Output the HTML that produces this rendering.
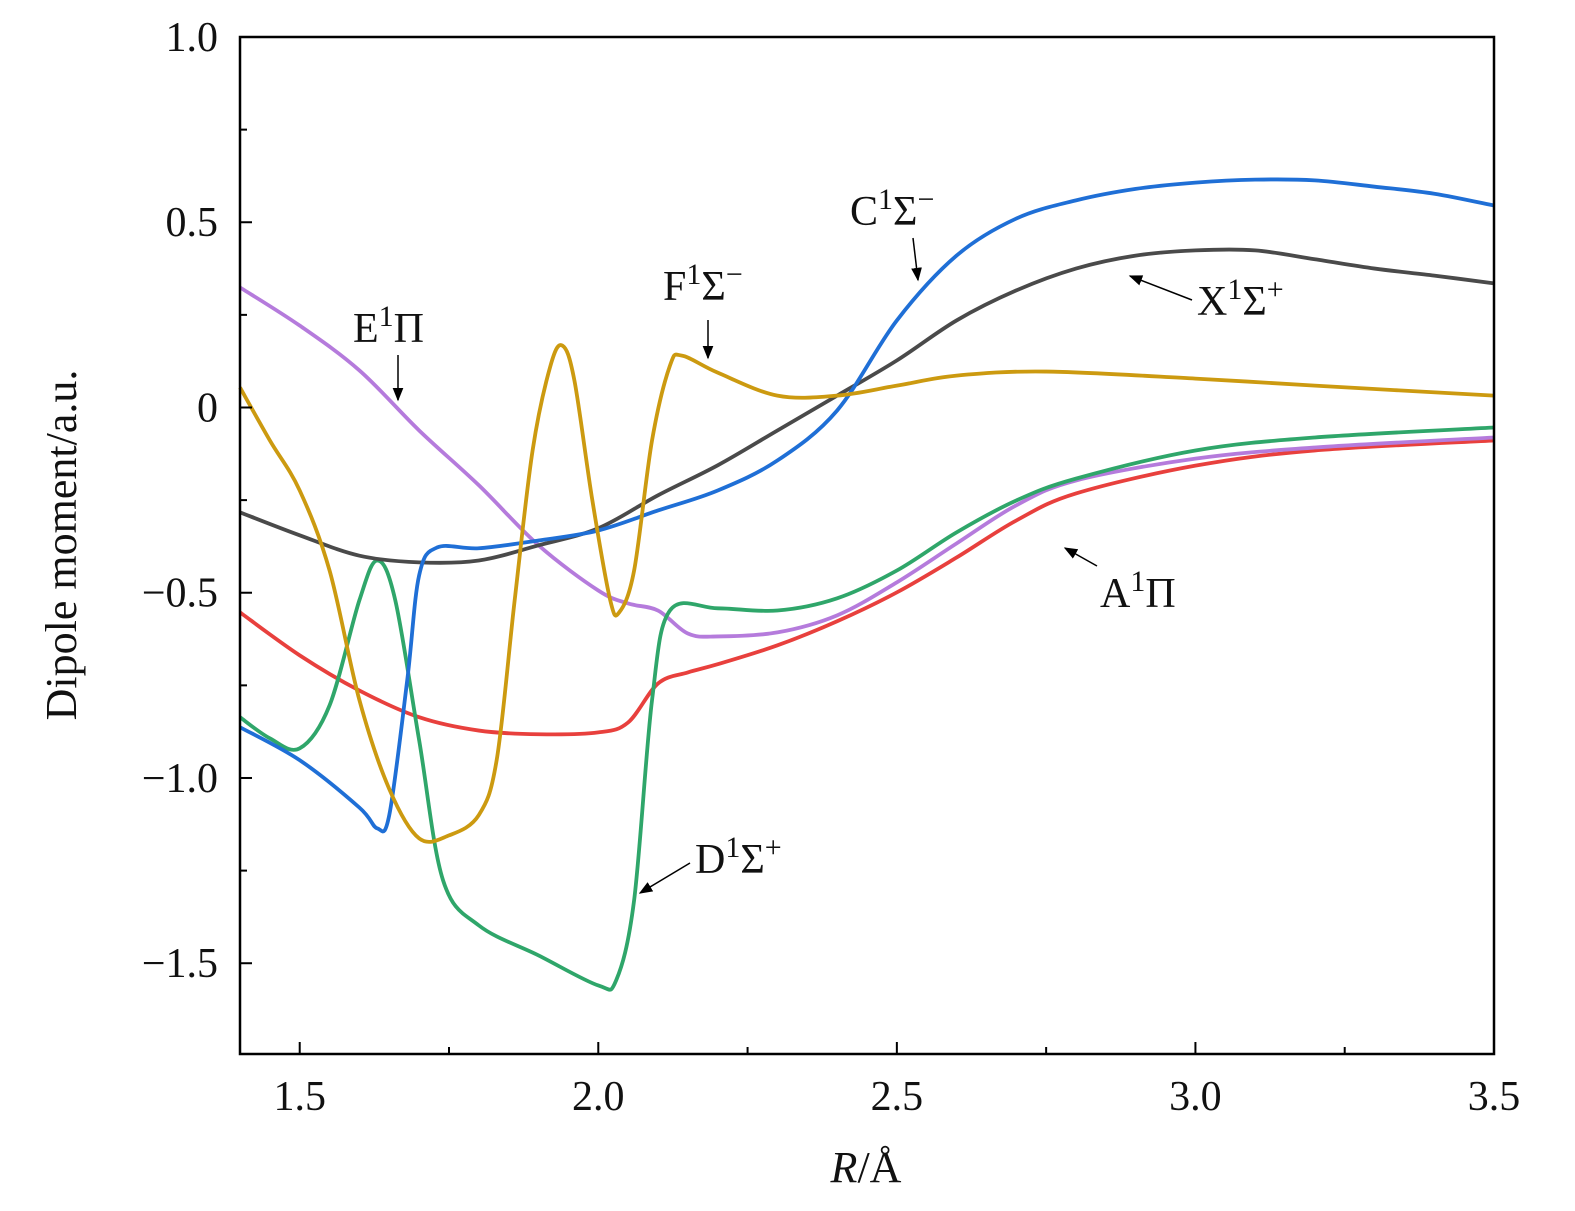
<!DOCTYPE html>
<html><head><meta charset="utf-8"><style>
body{margin:0;background:#fff}
svg{display:block}
text{font-family:"Liberation Serif","DejaVu Serif",serif;fill:#111}
</style></head><body>
<svg id="chart" width="1575" height="1211" xmlns="http://www.w3.org/2000/svg">
<defs><marker id="ah" viewBox="0 0 10 10" refX="9" refY="5" markerWidth="9" markerHeight="9" orient="auto-start-reverse"><path d="M0,1 L10,5 L0,9 z" fill="#000"/></marker></defs>
<g id="series"></g>
<rect x="240" y="37" width="1254" height="1017" fill="none" stroke="#000" stroke-width="2.5"/>
<g id="axes"></g>
<text x="76" y="545" font-size="44" text-anchor="middle" transform="rotate(-90 76 545)">Dipole moment/a.u.</text>
<text x="866" y="1182" font-size="44" text-anchor="middle"><tspan font-style="italic">R</tspan>/Å</text>
<g>
<text x="850" y="225" font-size="42">C<tspan font-size="30" dy="-16">1</tspan><tspan dy="16">Σ</tspan><tspan font-size="30" dy="-16">−</tspan></text>
<line x1="913" y1="238" x2="918" y2="280" stroke="#000" stroke-width="1.5" marker-end="url(#ah)"/>
<text x="1197" y="315" font-size="42">X<tspan font-size="30" dy="-16">1</tspan><tspan dy="16">Σ</tspan><tspan font-size="30" dy="-16">+</tspan></text>
<line x1="1192" y1="300" x2="1130" y2="276" stroke="#000" stroke-width="1.5" marker-end="url(#ah)"/>
<text x="663" y="300" font-size="42">F<tspan font-size="30" dy="-16">1</tspan><tspan dy="16">Σ</tspan><tspan font-size="30" dy="-16">−</tspan></text>
<line x1="708" y1="320" x2="708" y2="358" stroke="#000" stroke-width="1.5" marker-end="url(#ah)"/>
<text x="353" y="342" font-size="42">E<tspan font-size="30" dy="-16">1</tspan><tspan dy="16">Π</tspan></text>
<line x1="398" y1="355" x2="398" y2="400" stroke="#000" stroke-width="1.5" marker-end="url(#ah)"/>
<text x="1100" y="607" font-size="42">A<tspan font-size="30" dy="-16">1</tspan><tspan dy="16">Π</tspan></text>
<line x1="1097" y1="566" x2="1065" y2="548" stroke="#000" stroke-width="1.5" marker-end="url(#ah)"/>
<text x="695" y="873" font-size="42">D<tspan font-size="30" dy="-16">1</tspan><tspan dy="16">Σ</tspan><tspan font-size="30" dy="-16">+</tspan></text>
<line x1="690" y1="863" x2="640" y2="893" stroke="#000" stroke-width="1.5" marker-end="url(#ah)"/>
</g>
</svg>
<script>
const xTicks=[1.5,2.0,2.5,3.0,3.5];
const xTickLabels=["1.5","2.0","2.5","3.0","3.5"];
const yTicks=[1.0,0.5,0,-0.5,-1.0,-1.5];
const yTickLabels=["1.0","0.5","0","−0.5","−1.0","−1.5"];
const rX=[1.4,1.5,1.6,1.7,1.8,1.9,2.0,2.1,2.2,2.3,2.4,2.5,2.6,2.7,2.8,2.9,3.0,3.1,3.2,3.3,3.4,3.5];
const xState=[-0.283,-0.345,-0.40,-0.418,-0.413,-0.372,-0.326,-0.237,-0.156,-0.062,0.032,0.127,0.235,0.316,0.375,0.41,0.424,0.424,0.40,0.375,0.356,0.335];
const rC=[1.4,1.5,1.6,1.63,1.65,1.68,1.7,1.73,1.8,1.9,2.0,2.1,2.2,2.3,2.4,2.5,2.6,2.7,2.8,2.9,3.0,3.1,3.2,3.3,3.4,3.5];
const cState=[-0.863,-0.952,-1.08,-1.136,-1.10,-0.737,-0.453,-0.378,-0.38,-0.359,-0.332,-0.278,-0.224,-0.143,-0.008,0.235,0.41,0.51,0.559,0.59,0.607,0.615,0.613,0.596,0.577,0.545];
const rF=[1.4,1.45,1.5,1.55,1.6,1.65,1.7,1.75,1.8,1.83,1.86,1.89,1.92,1.94,1.96,1.99,2.02,2.035,2.06,2.09,2.12,2.14,2.2,2.3,2.4,2.5,2.6,2.75,3.0,3.2,3.5];
const fState=[0.054,-0.089,-0.224,-0.44,-0.79,-1.03,-1.163,-1.155,-1.10,-0.95,-0.52,-0.116,0.113,0.167,0.073,-0.25,-0.52,-0.553,-0.44,-0.089,0.113,0.14,0.094,0.032,0.032,0.059,0.086,0.097,0.078,0.059,0.032];
const rE=[1.4,1.5,1.6,1.7,1.8,1.9,2.0,2.05,2.1,2.15,2.2,2.3,2.4,2.5,2.6,2.7,2.8,3.0,3.2,3.5];
const eState=[0.324,0.221,0.1,-0.062,-0.21,-0.372,-0.494,-0.529,-0.548,-0.61,-0.618,-0.607,-0.561,-0.472,-0.367,-0.264,-0.197,-0.138,-0.108,-0.081];
const rA=[1.4,1.5,1.6,1.7,1.8,1.9,2.0,2.05,2.1,2.15,2.2,2.3,2.4,2.5,2.6,2.7,2.8,3.0,3.2,3.5];
const aState=[-0.553,-0.669,-0.764,-0.836,-0.872,-0.882,-0.877,-0.85,-0.745,-0.715,-0.693,-0.642,-0.577,-0.499,-0.405,-0.305,-0.232,-0.157,-0.116,-0.089];
const rD=[1.4,1.45,1.5,1.55,1.6,1.63,1.66,1.7,1.74,1.8,1.9,2.0,2.03,2.06,2.09,2.12,2.2,2.3,2.4,2.5,2.6,2.7,2.8,3.0,3.2,3.5];
const dState=[-0.836,-0.893,-0.92,-0.804,-0.52,-0.413,-0.52,-0.898,-1.276,-1.398,-1.479,-1.56,-1.546,-1.33,-0.79,-0.548,-0.542,-0.548,-0.515,-0.44,-0.337,-0.251,-0.192,-0.116,-0.081,-0.054];

const X0=240,X1=1494,Y0=37,Y1=1054,xmin=1.4,xmax=3.5,ymin=-1.745,ymax=1.0;
const sx=v=>X0+(v-xmin)/(xmax-xmin)*(X1-X0);
const sy=v=>Y1-(v-ymin)/(ymax-ymin)*(Y1-Y0);
const NS="http://www.w3.org/2000/svg";
const axes=document.getElementById('axes');
function mk(tag,attrs,parent){const e=document.createElementNS(NS,tag);for(const k in attrs)e.setAttribute(k,attrs[k]);parent.appendChild(e);return e;}
xTicks.forEach((t,i)=>{
  const l=mk('line',{x1:sx(t),x2:sx(t),y1:Y1,y2:Y1-12,stroke:'#000','stroke-width':2},axes);
  
  
  const tx=mk('text',{x:sx(t),y:1110,'font-size':42,'text-anchor':'middle'},axes);tx.textContent=xTickLabels[i];
  
  
});
for(let t=1.75;t<3.5;t+=0.5){const l=mk('line',{x1:sx(t),x2:sx(t),y1:Y1,y2:Y1-7,stroke:'#000','stroke-width':2},axes);
  
  }
yTicks.forEach((t,i)=>{
  const l=mk('line',{x1:X0,x2:X0+12,y1:sy(t),y2:sy(t),stroke:'#000','stroke-width':2},axes);
  
  
  const tx=mk('text',{x:218,y:sy(t)+14,'font-size':42,'text-anchor':'end'},axes);tx.textContent=yTickLabels[i];
  
  
});
for(let t=0.75;t>-1.75;t-=0.5){const l=mk('line',{x1:X0,x2:X0+7,y1:sy(t),y2:sy(t),stroke:'#000','stroke-width':2},axes);
  
  }
function path(xs,ys){
  const p=xs.map((x,i)=>[sx(x),sy(ys[i])]);
  let d='M'+p[0][0]+','+p[0][1];
  for(let i=0;i<p.length-1;i++){
    const p0=p[i-1]||p[i],p1=p[i],p2=p[i+1],p3=p[i+2]||p2;
    const c1=[p1[0]+(p2[0]-p0[0])/6,p1[1]+(p2[1]-p0[1])/6];
    const c2=[p2[0]-(p3[0]-p1[0])/6,p2[1]-(p3[1]-p1[1])/6];
    d+=` C${c1[0]},${c1[1]} ${c2[0]},${c2[1]} ${p2[0]},${p2[1]}`;
  }
  return d;
}
const g=document.getElementById('series');
[[rA,aState,'#e8403d','series-a1pi'],[rE,eState,'#b57bdc','series-e1pi'],[rD,dState,'#2fa66a','series-d1sigma'],
 [rX,xState,'#4a4a4a','series-x1sigma'],[rC,cState,'#1f6fd6','series-c1sigma'],[rF,fState,'#cc9a10','series-f1sigma']].forEach(s=>{
  const e=mk('path',{d:path(s[0],s[1]),fill:'none',stroke:s[2],'stroke-width':3.8},g);
  
  
});
</script>
</body></html>
